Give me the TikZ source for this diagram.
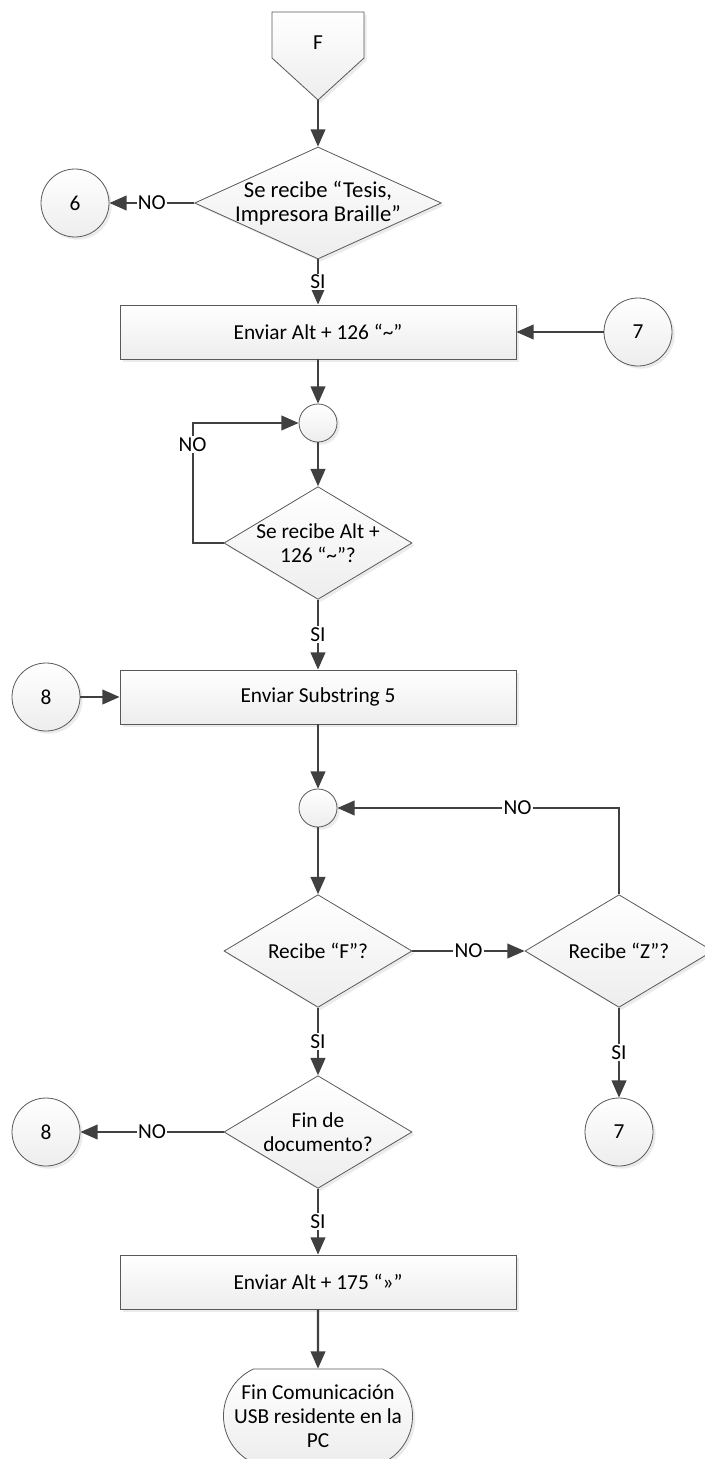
\documentclass[tikz,border=0pt]{standalone}
\usepackage{fontspec}
\setmainfont{Carlito}
\usetikzlibrary{shapes.geometric,shapes.misc,arrows.meta,shadows}
\begin{document}
\begin{tikzpicture}[x=0.75pt,y=-0.75pt,
every node/.style={font=\fontsize{16}{18}\selectfont},
caja/.style={draw=gray!70!black, line width=0.6pt, top color=white, bottom color=gray!14,
  drop shadow={shadow xshift=2pt,shadow yshift=-2pt,fill=gray!30}},
proceso/.style={caja, rectangle, minimum width=297pt, minimum height=40.5pt},
decision/.style={caja, diamond, minimum width=141pt, minimum height=84.5pt, inner sep=0pt},
conector/.style={caja, circle, minimum size=51pt, inner sep=0pt},
union/.style={caja, circle, minimum size=28.5pt, inner sep=0pt},
fin/.style={caja, rounded rectangle, rounded rectangle arc length=130, minimum width=141.75pt, minimum height=70.5pt, align=center, inner sep=0pt},
flecha/.style={draw=black!75, line width=1.6pt, -{Triangle[length=13pt,width=11pt]}},
etiq/.style={fill=white, inner sep=1pt}]
\path[use as bounding box, fill=white] (0,0) rectangle (704,1459);
% conector de pagina F
\draw[caja] (272,12) -- (364,12) -- (364,58) -- (318,100) -- (272,58) -- cycle;
\node (F) at (318,43) {F};
\coordinate (Fp) at (318,100);
% bloques
\node[decision, minimum width=185pt, minimum height=84pt] (d1) at (318,203) {};
\node[align=center, font=\fontsize{17}{17.5}\selectfont] (d1t) at (d1) {Se recibe “Tesis,\\Impresora Braille”};
\node[conector] (c6) at (75,203) {6};
\node[proceso] (p1) at (318,332) {Enviar Alt + 126 “\textasciitilde”};
\node[conector] (c7a) at (638,332) {7};
\node[union] (u1) at (318,423) {};
\node[decision] (d2) at (318,543) {};
\node[align=center] (d2t) at (d2) {Se recibe Alt +\\126 “\textasciitilde”?};
\node[proceso] (p2) at (318,697) {Enviar Substring 5};
\node[conector] (c8a) at (46,697) {8};
\node[union] (u2) at (318,808) {};
\node[decision] (d3) at (318,951) {};
\node (d3t) at (d3) {Recibe “F”?};
\node[decision] (d4) at (619,951) {};
\node (d4t) at (d4) {Recibe “Z”?};
\node[conector] (c7b) at (619,1132) {7};
\node[decision] (d5) at (318,1132) {};
\node[align=center] (d5t) at (d5) {Fin de\\documento?};
\node[conector] (c8b) at (46,1132) {8};
\node[proceso] (p3) at (318,1282) {Enviar Alt + 175 “»”};
\node[fin] (f) at (318,1416) {Fin Comunicación\\USB residente en la\\PC};
% flechas
\draw[flecha] (Fp) -- (d1);
\draw[flecha] (d1) -- node[etiq]{NO} (c6);
\draw[flecha] (d1) -- node[etiq]{SI} (p1);
\draw[flecha] (c7a) -- (p1);
\draw[flecha] (p1) -- (u1);
\draw[flecha] (u1) -- (d2);
\draw[flecha] (d2.west) -- ++(-31,0) |- node[etiq,pos=0.41]{NO} (u1);
\draw[flecha] (d2) -- node[etiq]{SI} (p2);
\draw[flecha] (c8a) -- (p2);
\draw[flecha] (p2) -- (u2);
\draw[flecha] (u2) -- (d3);
\draw[flecha] (d3) -- node[etiq]{NO} (d4);
\draw[flecha] (d4) |- node[etiq,pos=0.68]{NO} (u2);
\draw[flecha] (d3) -- node[etiq]{SI} (d5);
\draw[flecha] (d4) -- node[etiq]{SI} (c7b);
\draw[flecha] (d5) -- node[etiq]{NO} (c8b);
\draw[flecha] (d5) -- node[etiq]{SI} (p3);
\draw[flecha] (p3) -- (f);
\end{tikzpicture}
\end{document}
